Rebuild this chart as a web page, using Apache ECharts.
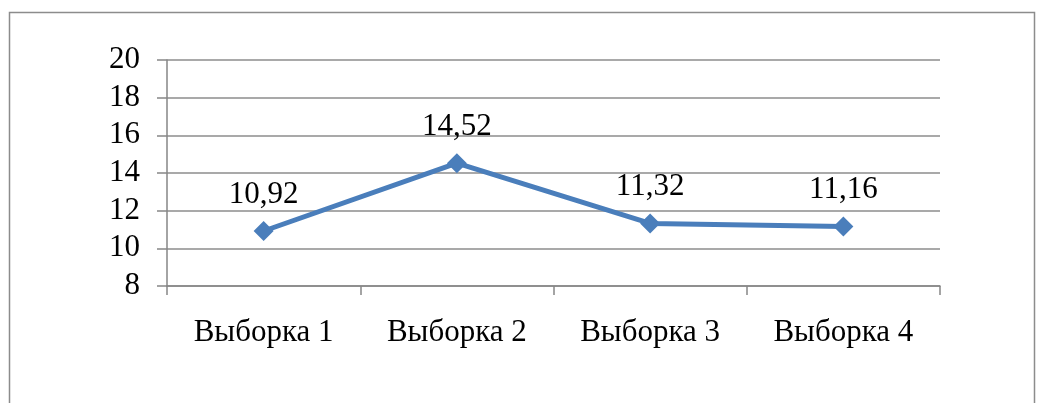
<!DOCTYPE html>
<html>
<head>
<meta charset="utf-8">
<script src="https://cdn.jsdelivr.net/npm/echarts@6/dist/echarts.min.js"></script>
<style>
html,body{margin:0;padding:0;background:#fff;}
#chart{width:1043px;height:403px;}
</style>
</head>
<body>
<div id="chart"></div>
<script>
var categories = ['Выборка 1', 'Выборка 2', 'Выборка 3', 'Выборка 4'];
var values = [10.92, 14.52, 11.32, 11.16];
var yMin = 8, yMax = 20, yStep = 2;

var font = '"Liberation Serif", "DejaVu Serif", serif';
var chart = echarts.init(document.getElementById('chart'));
chart.setOption({
    animation: false,
    graphic: [{
        type: 'rect',
        shape: {x: 9.5, y: 12.5, width: 1025, height: 400},
        style: {fill: 'none', stroke: '#8c8c8c', lineWidth: 1.5}
    }],
    grid: {left: 167, right: 103, top: 60, bottom: 117},
    xAxis: {
        type: 'category',
        data: categories,
        boundaryGap: true,
        axisLine: {lineStyle: {color: '#868686', width: 1.5}},
        axisTick: {show: true, length: 9, lineStyle: {color: '#868686', width: 1.5}},
        axisLabel: {fontFamily: font, fontSize: 31, color: '#000', margin: 31}
    },
    yAxis: {
        type: 'value',
        min: yMin, max: yMax, interval: yStep,
        axisLine: {show: true, lineStyle: {color: '#868686', width: 1.5}},
        axisTick: {show: true, length: 10, lineStyle: {color: '#868686', width: 1.5}},
        axisLabel: {fontFamily: font, fontSize: 31, color: '#000', margin: 27},
        splitLine: {lineStyle: {color: '#8c8c8c', width: 1.5}}
    },
    series: [{
        type: 'line',
        data: values,
        symbol: 'diamond',
        symbolSize: 20,
        lineStyle: {color: '#4a7ebb', width: 5},
        itemStyle: {color: '#4a7ebb'},
        label: {
            show: true,
            position: 'top',
            distance: 11,
            fontFamily: font,
            fontSize: 31,
            color: '#000',
            formatter: function (p) { return p.value.toFixed(2).replace('.', ','); }
        }
    }]
});
</script>
</body>
</html>
